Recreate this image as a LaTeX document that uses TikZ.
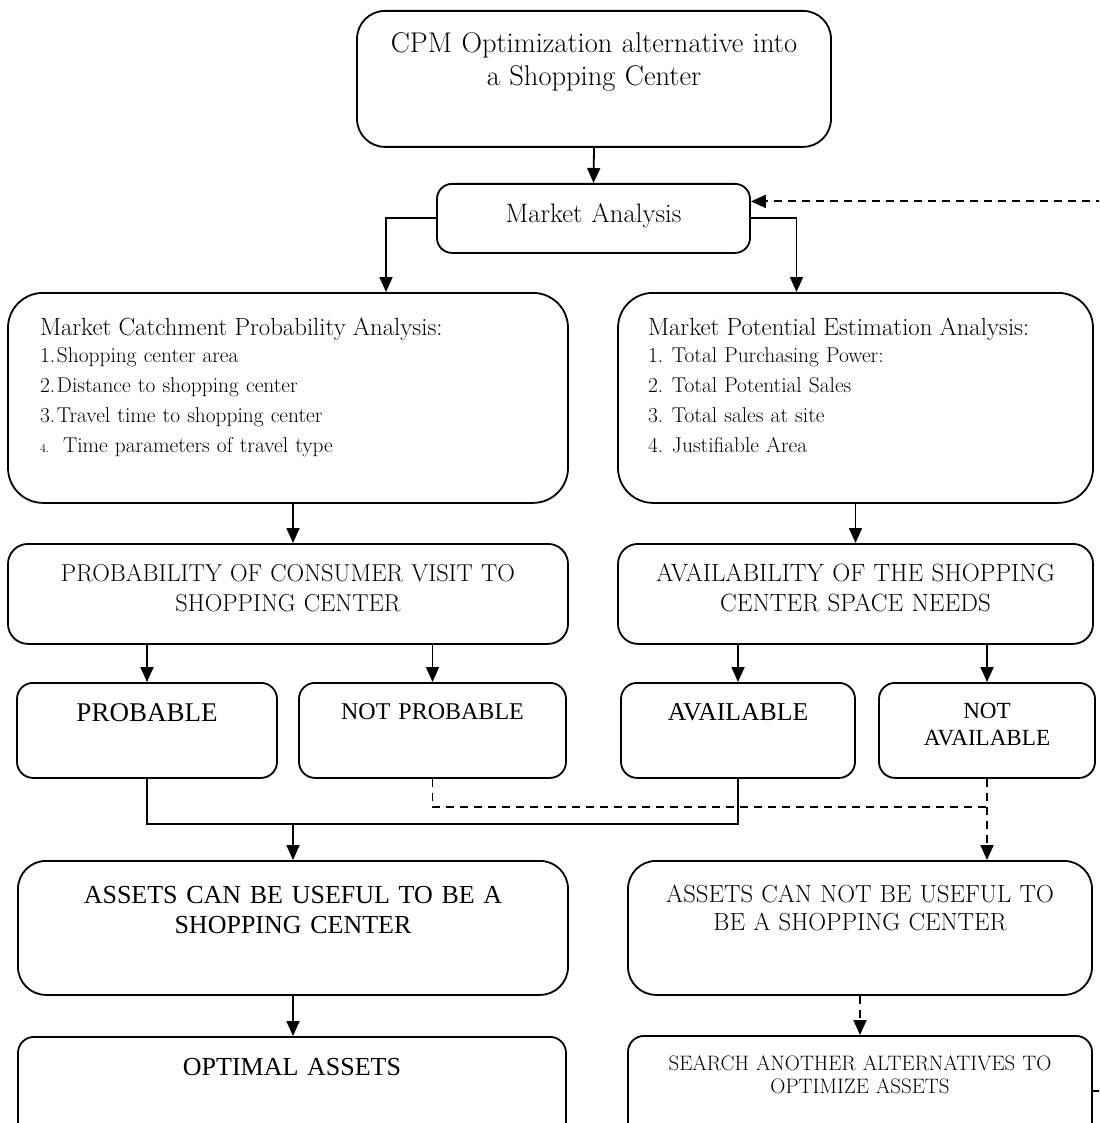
\documentclass[tikz,border=0pt]{standalone}
\usepackage{fontspec}
\newfontfamily\timesfont{Liberation Serif}
\usetikzlibrary{arrows.meta}

\begin{document}
\begin{tikzpicture}[x=1pt, y=-1pt,
    flowbox/.style={draw, line width=1.8pt, inner sep=0pt, anchor=north, align=center},
    arr/.style={line width=1.8pt, -{Triangle[length=15pt,width=13pt]}},
    link/.style={line width=1.8pt},
    dashline/.style={line width=1.8pt, dash pattern=on 8pt off 6pt},
    dasharr/.style={dashline, -{Triangle[length=15pt,width=13pt]}}]
    \useasboundingbox (0,0) rectangle (1099,1123);
    \fill[white] (0,0) rectangle (1099,1123);
    \clip (0,0) rectangle (1099,1123);

    % Top of the flow
    \node[flowbox, rounded corners=28pt, minimum width=474pt, text width=460pt,
          text height=42pt, text depth=94pt, font=\fontsize{28.5}{33}\selectfont]
        (cpm) at (594,10) {CPM Optimization alternative into\\a Shopping Center};
    \node[flowbox, rounded corners=15pt, minimum width=313pt, text width=300pt,
          text height=39pt, text depth=30pt, font=\fontsize{26.7}{30}\selectfont]
        (market) at (593.5,183) {Market Analysis};

    % Analysis boxes with the lists
    \node[flowbox, align=left, rounded corners=35pt, minimum width=560pt, text width=496pt,
          text height=43pt, text depth=167pt, font=\fontsize{21.4}{30}\selectfont]
        (catch) at (288,292) {{\fontsize{24.8}{30}\selectfont Market Catchment Probability Analysis:}\\[-3pt]
        \makebox[17pt][l]{1.}Shopping center area\\
        \makebox[17pt][l]{2.}Distance to shopping center\\
        \makebox[17pt][l]{3.}Travel time to shopping center\\
        \makebox[23pt][l]{\fontsize{12}{12}\selectfont 4.}Time parameters of travel type};
    \node[flowbox, align=left, rounded corners=35pt, minimum width=475pt, text width=415pt,
          text height=43pt, text depth=167pt, font=\fontsize{21.4}{30}\selectfont]
        (potent) at (855.5,292) {{\fontsize{24.8}{30}\selectfont Market Potential Estimation Analysis:}\\[-3pt]
        \makebox[24pt][l]{1.}Total Purchasing Power:\\
        \makebox[24pt][l]{2.}Total Potential Sales\\
        \makebox[24pt][l]{3.}Total sales at site\\
        \makebox[24pt][l]{4.}Justifiable Area};

    % Second level
    \node[flowbox, rounded corners=20pt, minimum width=560pt, text width=540pt,
          text height=38pt, text depth=62pt, font=\fontsize{24.4}{30}\selectfont]
        (prob) at (288,543) {PROBABILITY OF CONSUMER VISIT TO\\SHOPPING CENTER};
    \node[flowbox, rounded corners=20pt, minimum width=475pt, text width=460pt,
          text height=38pt, text depth=62pt, font=\fontsize{25}{30}\selectfont]
        (avail) at (855.5,543) {AVAILABILITY OF THE SHOPPING\\CENTER SPACE NEEDS};

    % Outcomes
    \node[flowbox, rounded corners=16pt, minimum width=260pt, text width=250pt,
          text height=39pt, text depth=56pt, font=\timesfont\fontsize{27}{30}\selectfont]
        (probable) at (147,682) {PROBABLE};
    \node[flowbox, rounded corners=16pt, minimum width=267pt, text width=255pt,
          text height=37pt, text depth=58pt, font=\timesfont\fontsize{24}{30}\selectfont]
        (notprob) at (432.5,682) {NOT PROBABLE};
    \node[flowbox, rounded corners=16pt, minimum width=234pt, text width=224pt,
          text height=38pt, text depth=57pt, font=\timesfont\fontsize{25.7}{30}\selectfont]
        (available) at (738,682) {AVAILABLE};
    \node[flowbox, rounded corners=16pt, minimum width=216pt, text width=206pt,
          text height=36pt, text depth=59pt, font=\timesfont\fontsize{23.1}{27}\selectfont]
        (notavail) at (987,682) {NOT\\AVAILABLE};

    % Conclusions
    \node[flowbox, rounded corners=28pt, minimum width=550pt, text width=530pt,
          text height=43pt, text depth=91pt, font=\timesfont\fontsize{26}{30}\selectfont]
        (assets) at (293,860) {ASSETS CAN BE USEFUL TO BE A\\SHOPPING CENTER};
    \node[flowbox, rounded corners=28pt, minimum width=464pt, text width=450pt,
          text height=42pt, text depth=92pt, font=\fontsize{24.7}{28}\selectfont]
        (notuse) at (860,860) {ASSETS CAN NOT BE USEFUL TO\\BE A SHOPPING CENTER};
    \node[flowbox, rounded corners=16pt, minimum width=548pt, text width=530pt,
          text height=39pt, text depth=70pt, font=\timesfont\fontsize{26}{30}\selectfont]
        (optimal) at (292,1036) {OPTIMAL ASSETS};
    \node[flowbox, rounded corners=16pt, minimum width=464pt, text width=450pt,
          text height=35pt, text depth=75pt, font=\fontsize{20.9}{23}\selectfont]
        (search) at (860,1035) {SEARCH ANOTHER ALTERNATIVES TO\\OPTIMIZE ASSETS};

    % Connectors
    \draw[arr] (cpm.south) -- (market.north);
    \draw[arr] (market.west) -| ([xshift=98pt]catch.north);
    \draw[arr] (market.east) -| ([xshift=-59pt]potent.north);
    \draw[arr] ([xshift=5pt]catch.south) -- ([xshift=5pt]prob.north);
    \draw[arr] (potent.south) -- (avail.north);
    \draw[arr] (prob.south -| probable.north) -- (probable.north);
    \draw[arr] (prob.south -| notprob.north) -- (notprob.north);
    \draw[arr] (avail.south -| available.north) -- (available.north);
    \draw[arr] (avail.south -| notavail.north) -- (notavail.north);

    \coordinate (yes) at (293,824);
    \coordinate (no) at (987,807);
    \draw[link] (probable.south) |- (yes) -| (available.south);
    \draw[arr] (yes) -- (assets.north);
    \draw[dashline] (notprob.south) |- (no);
    \draw[dasharr] (notavail.south) -- (notavail.south |- notuse.north);

    \draw[arr] (assets.south) -- (assets.south |- optimal.north);
    \draw[dasharr] (notuse.south) -- (search.north);

    % Loop back to the market analysis
    \draw[dasharr] (search.east) -- ++(30,0) |- ([yshift=17pt]market.east);
\end{tikzpicture}
\end{document}
